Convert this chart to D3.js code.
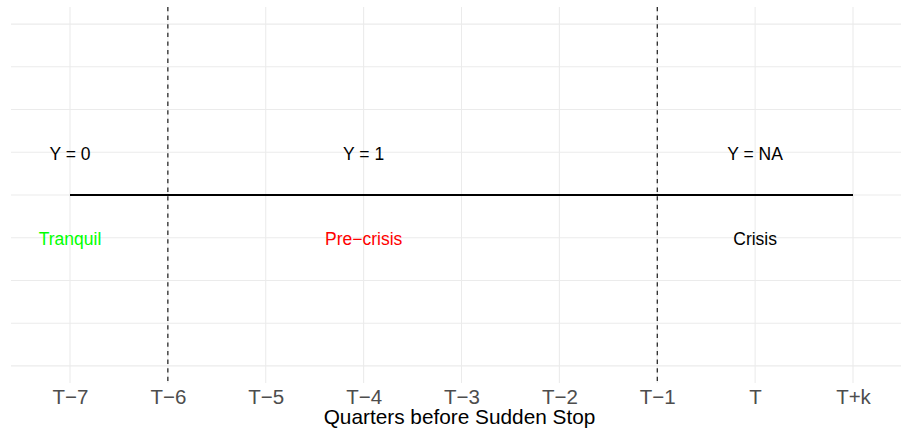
<!DOCTYPE html>
<html>
<head>
<meta charset="utf-8">
<script src="https://cdn.jsdelivr.net/npm/d3@7"></script>
<style>
  html, body { margin: 0; padding: 0; background: #fff; }
  svg { display: block; font-family: "Liberation Sans", Arial, Helvetica, sans-serif; }
</style>
</head>
<body>
<svg id="chart" width="901" height="435"></svg>
<script>
// Data
const categories = ["T\u22127", "T\u22126", "T\u22125", "T\u22124", "T\u22123", "T\u22122", "T\u22121", "T", "T+k"];
const lineStart = "T\u22127";
const lineEnd = "T+k";
const lineValue = 0;
const dividers = ["T\u22126", "T\u22121"];
const topLabels = [
  { cat: "T\u22127", y: 1, text: "Y = 0" },
  { cat: "T\u22124", y: 1, text: "Y = 1" },
  { cat: "T", y: 1, text: "Y = NA" }
];
const bottomLabels = [
  { cat: "T\u22127", y: -1, text: "Tranquil", color: "#00FF00" },
  { cat: "T\u22124", y: -1, text: "Pre\u2212crisis", color: "#FF0000" },
  { cat: "T", y: -1, text: "Crisis", color: "#000000" }
];
const yGrid = [-4, -3, -2, -1, 0, 1, 2, 3, 4];
const xTitle = "Quarters before Sudden Stop";

// Layout
const svg = d3.select("#chart");
const panel = { left: 11, right: 908, top: 7, bottom: 383 };

const x = d3.scalePoint().domain(categories).range([70, 853]);
const y = d3.scaleLinear().domain([-4.4, 4.4]).range([panel.bottom, panel.top]);

const g = svg.append("g");

// Gridlines
g.selectAll("line.hgrid").data(yGrid).enter().append("line")
  .attr("x1", panel.left).attr("x2", panel.right)
  .attr("y1", d => y(d)).attr("y2", d => y(d))
  .attr("stroke", "#EBEBEB").attr("stroke-width", 1.07);

g.selectAll("line.vgrid").data(categories).enter().append("line")
  .attr("x1", d => x(d)).attr("x2", d => x(d))
  .attr("y1", panel.top).attr("y2", panel.bottom)
  .attr("stroke", "#EBEBEB").attr("stroke-width", 1.07);

// Horizontal black line
g.append("line")
  .attr("x1", x(lineStart)).attr("x2", x(lineEnd))
  .attr("y1", y(lineValue)).attr("y2", y(lineValue))
  .attr("stroke", "#000").attr("stroke-width", 2.1);

// Dashed dividers
g.selectAll("line.div").data(dividers).enter().append("line")
  .attr("x1", d => x(d)).attr("x2", d => x(d))
  .attr("y1", panel.top).attr("y2", panel.bottom)
  .attr("stroke", "#000").attr("stroke-width", 1.07)
  .attr("stroke-dasharray", "4.3,4.3");

// Annotations
g.selectAll("text.top").data(topLabels).enter().append("text")
  .attr("x", d => x(d.cat)).attr("y", d => y(d.y) + 7.3)
  .attr("text-anchor", "middle")
  .attr("font-size", "17.5px").attr("fill", "#000")
  .text(d => d.text);

g.selectAll("text.bottom").data(bottomLabels).enter().append("text")
  .attr("x", d => x(d.cat)).attr("y", d => y(d.y) + 7.3)
  .attr("text-anchor", "middle")
  .attr("font-size", "17.5px").attr("fill", d => d.color)
  .text(d => d.text);

// X axis
const xAxis = d3.axisBottom(x).tickSize(0).tickPadding(0);
const ax = svg.append("g").attr("transform", `translate(0,${panel.bottom})`).call(xAxis);
ax.select(".domain").remove();
ax.selectAll("text")
  .attr("dy", null).attr("y", 21)
  .attr("font-size", "20.5px")
  .attr("font-family", "Liberation Sans, Arial, Helvetica, sans-serif")
  .attr("fill", "#4D4D4D");

// X title
svg.append("text")
  .attr("x", (panel.left + panel.right) / 2).attr("y", 424.3)
  .attr("text-anchor", "middle")
  .attr("font-size", "20.8px").attr("fill", "#000")
  .text(xTitle);
</script>
</body>
</html>
